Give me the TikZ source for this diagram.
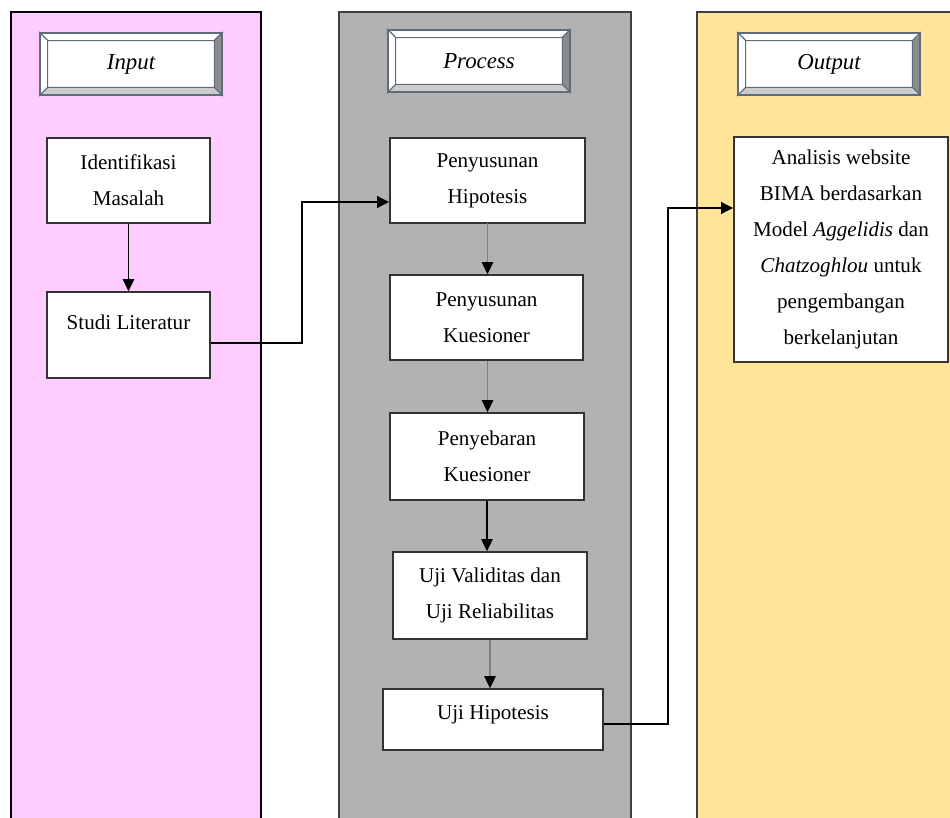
\documentclass[tikz,border=0pt]{standalone}
\usepackage{fontspec}
\setmainfont{Liberation Serif}
\usetikzlibrary{arrows.meta}
\definecolor{inpink}{HTML}{FFCCFF}
\definecolor{prgray}{HTML}{B2B2B2}
\definecolor{outyel}{HTML}{FFE499}
\definecolor{bevline}{HTML}{5F6B7A}
\newcommand\bevelframe[1]{%
  \filldraw[draw=bevline,fill=white,line width=0.6pt] (#1.north west) -- (#1.north east) -- ([shift={(-0.16cm,-0.16cm)}]#1.north east) -- ([shift={(0.16cm,-0.16cm)}]#1.north west) -- cycle;
  \filldraw[draw=bevline,fill=white,line width=0.6pt] (#1.north west) -- ([shift={(0.16cm,-0.16cm)}]#1.north west) -- ([shift={(0.16cm,0.16cm)}]#1.south west) -- (#1.south west) -- cycle;
  \filldraw[draw=bevline,fill=black!45,line width=0.6pt] (#1.north east) -- (#1.south east) -- ([shift={(-0.16cm,0.16cm)}]#1.south east) -- ([shift={(-0.16cm,-0.16cm)}]#1.north east) -- cycle;
  \filldraw[draw=bevline,fill=black!20,line width=0.6pt] (#1.south west) -- (#1.south east) -- ([shift={(-0.16cm,0.16cm)}]#1.south east) -- ([shift={(0.16cm,0.16cm)}]#1.south west) -- cycle;
  \draw[bevline,line width=1.1pt] (#1.north west) rectangle (#1.south east);}
\begin{document}
\begin{tikzpicture}[x=0.02cm,y=-0.02cm,
    box/.style={draw=black!80,line width=0.8pt,fill=white,align=center,inner sep=0pt,font=\fontsize{12}{20.4}\selectfont},
    head/.style={minimum width=3.64cm,minimum height=1.24cm,fill=white,inner sep=0pt,font=\fontsize{13}{15}\selectfont\itshape},
    link/.style={-{Triangle[length=7pt,width=6.5pt]},line width=1pt},
    glink/.style={-{Triangle[length=7pt,width=6.5pt,color=black]},line width=1pt,draw=black!50},
    elbow/.style={-{Triangle[length=7pt,width=6.5pt]},line width=1.6pt}]
    \useasboundingbox (0,0) rectangle (950,818);
    \fill[inpink] (11,12) rectangle (261,830);
    \draw[line width=0.9pt] (11,830) -- (11,12) -- (261,12) -- (261,830);
    \fill[prgray] (339,12) rectangle (631,830);
    \draw[black!75,line width=0.9pt] (339,830) -- (339,12) -- (631,12) -- (631,830);
    \fill[outyel] (697,12) rectangle (960,830);
    \draw[black!75,line width=0.9pt] (697,830) -- (697,12) -- (960,12);
    \node[head] (hin) at (131,64) {};
    \bevelframe{hin}
    \node (tin) at (hin) {\fontsize{13}{15}\selectfont\itshape Input};
    \node[head] (hpr) at (479,61) {};
    \bevelframe{hpr}
    \node (tpr) at (hpr) {\fontsize{13}{15}\selectfont\itshape Process};
    \node[head] (hout) at (829,64) {};
    \bevelframe{hout}
    \node (tout) at (hout) {\fontsize{13}{15}\selectfont\itshape Output};
    \node[box,minimum width=3.26cm,minimum height=1.7cm] (in1) at (128.5,180.5) {Identifikasi\\Masalah};
    \node[box,minimum width=3.26cm,minimum height=1.72cm] (in2) at (128.5,335) {\raisebox{14.8pt}{Studi Literatur}};
    \node[box,minimum width=3.9cm,minimum height=1.7cm] (pr1) at (487.5,180.5) {Penyusunan\\Hipotesis};
    \node[box,minimum width=3.86cm,minimum height=1.7cm] (pr2) at (486.5,317.5) {Penyusunan\\Kuesioner};
    \node[box,minimum width=3.88cm,minimum height=1.74cm] (pr3) at (487,456.5) {Penyebaran\\Kuesioner};
    \node[box,minimum width=3.88cm,minimum height=1.74cm] (pr4) at (490,595.5) {Uji Validitas dan\\Uji Reliabilitas};
    \node[box,minimum width=4.4cm,minimum height=1.22cm] (pr5) at (493,719.5) {\raisebox{8.5pt}{Uji Hipotesis}};
    \node[box,minimum width=4.28cm,minimum height=4.5cm] (out1) at (841,249.5) {Analisis website\\BIMA berdasarkan\\Model \textit{Aggelidis} dan\\\textit{Chatzoghlou} untuk\\pengembangan\\berkelanjutan};
    \draw[link] (in1) -- (in2);
    \draw[glink] (pr1.south |- 0,223) -- (pr1.south |- pr2.north);
    \draw[glink] (pr1.south |- pr2.south) -- (pr1.south |- pr3.north);
    \draw[link] (pr3.south) -- (pr3.south |- pr4.north);
    \draw[glink] (pr4.south) -- (pr4.south |- pr5.north);
    \draw[elbow] (in2.east |- 0,343) -- (302,343) |- (pr1.west |- 0,202);
    \draw[elbow] (pr5.east |- 0,724) -- (668,724) |- (out1.west |- 0,208);
\end{tikzpicture}
\end{document}
